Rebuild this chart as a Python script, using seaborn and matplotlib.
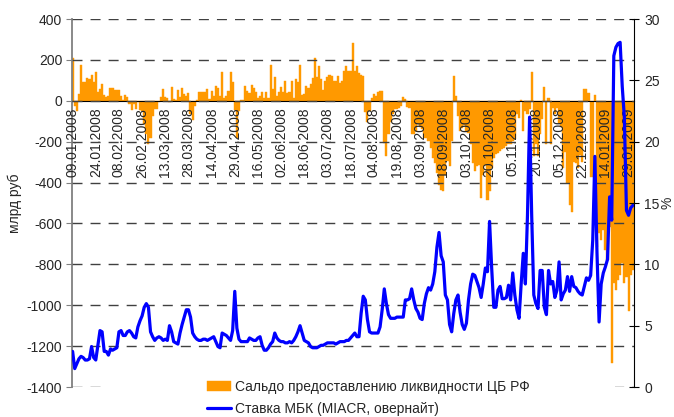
import numpy as np
import pandas as pd
import matplotlib
matplotlib.use("Agg")
import matplotlib.pyplot as plt
import seaborn as sns
from matplotlib.patches import Rectangle

# === Подписи оси X (каждый 11-й торговый день) ===
tick_labels = [
    "09.01.2008", "24.01.2008", "08.02.2008", "26.02.2008", "13.03.2008",
    "28.03.2008", "14.04.2008", "29.04.2008", "16.05.2008", "02.06.2008",
    "18.06.2008", "03.07.2008", "18.07.2008", "04.08.2008", "19.08.2008",
    "03.09.2008", "18.09.2008", "03.10.2008", "20.10.2008", "05.11.2008",
    "20.11.2008", "05.12.2008", "22.12.2008", "14.01.2009", "29.01.2009",
]

# === Сальдо предоставления ликвидности ЦБ РФ, млрд руб (по дням) ===
saldo = [
    210, -25, -50, 33, 177, 93, 93, 111, 107, 128,
    90, 143, 41, 57, 82, 30, 20, 25, 61, 62,
    54, 52, 54, 25, 3, 28, 20, -16, -46, -16,
    -41, -8, -46, -50, -115, -164, -210, -180, -74, -41,
    -41, -5, 20, 57, 20, 16, -8, 69, 8, 3,
    52, 21, 62, 33, 25, 36, -66, -95, -25, 5,
    44, 41, 41, 41, 57, 8, 49, 25, 74, 62,
    25, 143, 16, 25, 49, 139, 90, -46, -180, -50,
    5, 3, 74, 49, 36, 79, 61, 44, 16, 25,
    41, 16, 41, 16, 177, 57, 118, 25, 41, 69,
    41, 98, 36, 41, 98, 16, 107, 90, 175, 28,
    33, 74, 62, 82, 111, 210, 118, 172, 107, 52,
    98, 115, 128, 123, 98,
    98, 123, 85, 95, 148, 172, 144, 144, 282, 144,
    172, 134, 128, 123, -57, -102, -49, 13, 33, 25,
    41, 49, 46, -205, -270, -164, -102, -66, -41, -41,
    -33, -25, 20, 8, -30, -33, -161, -161, -148, -115,
    -128, -139, -184, -180, -197, -230, -279, -303, -353, -410,
    -435, -443, -361, -295, -320, -197, 123, 25, -74, -148,
    -131, -118, -148, -156, -213, -303, -344, -320, -312, -476,
    -361, -312, -484, -443, -328, -279, -262, -254, -246, -238,
    -230, -221, -213, -213, -197, -189, -66, -82, 3, -148,
    -49, -66,
    -40, 139, -270, -213, -270, -164, -90, 69, -213, 16,
    -213, -33, -66, -33, -110, -127, -330, -250, -400, -510,
    -545, -300, -306, -331, -266, -300, 60, 57, 40, -372,
    -372, 28, -714, -649, -681, -632, -730, -779, -616, -1284,
    -893, -926, -877, -852, -795, -893, -860, -1030, -852, -828,
]

# === Ставка МБК (MIACR, овернайт), % ===
miacr = [
    2.9, 1.5, 1.9, 2.3, 2.5, 2.4, 2.2, 2.2, 2.3, 3.3,
    2.4, 2.2, 3.4, 4.6, 4.5, 2.9, 2.9, 2.6, 3.1, 3.0,
    3.1, 3.2, 4.5, 4.6, 4.2, 4.2, 4.5, 4.6, 4.4, 4.1,
    4.0, 4.9, 5.4, 5.8, 6.5, 6.8, 6.5, 4.5, 4.1, 3.8,
    4.0, 4.1, 4.0, 3.8, 3.9, 3.8, 5.0, 4.5, 3.7, 3.6,
    3.5, 4.4, 5.1, 5.7, 6.3, 6.3, 5.7, 4.4, 4.1, 3.9,
    3.8, 3.8, 3.9, 3.9, 3.8, 3.9, 4.0, 4.1, 3.7, 3.3,
    3.2, 4.4, 4.3, 4.2, 4.0, 3.8, 4.6, 7.8, 4.8, 3.9,
    3.7, 3.7, 3.7, 3.7, 4.0, 3.9, 3.8, 3.8, 4.0, 4.1,
    3.4, 3.0, 3.0, 3.2, 3.5, 3.7, 4.4, 4.0, 3.8, 3.7,
    3.7, 3.6, 3.6, 3.7, 3.6, 3.8, 4.1, 4.5, 5.0, 4.4,
    3.8, 3.7, 3.6, 3.3, 3.2, 3.2, 3.2, 3.3, 3.4, 3.4,
    3.5, 3.6, 3.6, 3.6, 3.6,
    3.5, 3.6, 3.7, 3.7, 3.7, 3.8, 3.8, 4.0, 4.2, 4.4,
    4.1, 4.1, 6.0, 7.4, 7.1, 5.5, 4.5, 4.4, 4.4, 4.4,
    4.4, 4.9, 6.3, 8.0, 6.8, 5.9, 5.6, 5.6, 5.6, 5.7,
    5.7, 5.7, 5.7, 7.1, 7.1, 7.2, 8.0, 7.1, 6.4, 6.1,
    5.6, 5.5, 6.8, 7.6, 8.1, 7.9, 8.4, 9.4, 11.4, 12.6,
    10.7, 10.2, 7.5, 7.1, 5.1, 4.5, 6.0, 7.1, 7.5, 6.1,
    5.1, 4.7, 5.2, 7.1, 8.4, 9.2, 9.1, 8.6, 8.1, 7.3,
    8.4, 9.7, 9.4, 13.5, 9.7,
    6.5, 6.5, 7.9, 8.2, 7.2, 7.2, 7.3, 8.3, 7.1, 9.3,
    7.5, 6.3, 5.6, 8.4, 10.9, 8.4, 14.0, 22.0, 14.0, 7.5,
    6.8, 6.4, 9.5, 9.5, 6.5, 5.9, 9.5, 8.4, 8.6, 7.3,
    7.9, 10.2, 7.1, 7.6, 7.9, 9.0, 7.8, 9.0, 8.2, 8.1,
    7.8, 7.6, 7.5, 8.2, 8.9, 8.7, 9.1, 12.0, 18.8, 11.0,
    5.3, 8.4, 9.3, 9.8, 10.4, 15.5, 13.6, 27.0, 27.7, 28.0,
    28.1, 24.5, 22.0, 14.4, 14.0, 14.6, 14.8,
]

# === Оформление ===
sns.set_style("white")
plt.rcParams["font.family"] = ["Liberation Sans", "DejaVu Sans"]
plt.rcParams["font.size"] = 10
plt.rcParams["axes.unicode_minus"] = False

day = np.arange(len(saldo))
df = pd.DataFrame({"day": day, "saldo": saldo, "miacr": miacr})

fig, ax = plt.subplots(figsize=(6.74, 4.17), dpi=100)
fig.subplots_adjust(left=0.1068, right=0.9407, top=0.9544, bottom=0.0719)

# === Столбцы: сальдо ===
sns.barplot(data=df, x="day", y="saldo", native_scale=True, width=1.0,
            color="#FF9900", saturation=1, edgecolor="#FF9900", linewidth=0.3,
            errorbar=None, ax=ax, label="Сальдо предоставлению ликвидности ЦБ РФ")
ax.set_axisbelow(False)   # подписи дат и сетка поверх столбцов

# === Линия: ставка МБК (правая ось) ===
ax2 = ax.twinx()
sns.lineplot(data=df, x="day", y="miacr", color="#0000FF", linewidth=2.3,
             ax=ax2, label="Ставка МБК (MIACR, овернайт)")

# === Оси ===
ax.set_xlim(-0.3, len(day) - 0.4)
ax.set_ylim(-1400, 400)
ax.set_yticks(range(-1400, 401, 200))
ax2.set_ylim(0, 30)
ax2.set_yticks(range(0, 31, 5))

ax.set_xticks(day[::11])
ax.set_xticklabels(tick_labels)
ax.set_xticks(day, minor=True)
ax.tick_params(axis="x", which="both", direction="out", length=3, width=0.7,
               color="black", pad=2, labelsize=10)
ax.tick_params(axis="x", which="major", labelrotation=90)
ax.tick_params(axis="y", direction="out", length=4, color="#808080", pad=3, labelsize=10)
ax2.tick_params(axis="y", direction="inout", length=7, color="black", pad=4, labelsize=10)

ax.set_xlabel("")
ax2.set_xlabel("")
ax.set_ylabel("млрд руб", fontsize=10, labelpad=3)
ax2.set_ylabel("%", fontsize=10, labelpad=0)

ax.spines["bottom"].set_position(("data", 0))
ax.spines["bottom"].set_color("black")
ax.spines["left"].set_color("#808080")
ax.spines["left"].set_linewidth(1.3)
ax.spines["top"].set_visible(False)
ax.spines["right"].set_visible(False)
for s in ["top", "left", "bottom"]:
    ax2.spines[s].set_visible(False)
ax2.spines["right"].set_color("black")

ax.yaxis.grid(True, linestyle=(0, (7.2, 5.8)), color="#404040", linewidth=1.0)
ax.xaxis.grid(False)
ax2.grid(False)

# === Легенда ===
h1, l1 = ax.get_legend_handles_labels()
h2, l2 = ax2.get_legend_handles_labels()
for a in (ax, ax2):
    if a.get_legend() is not None:
        a.get_legend().remove()

fig.add_artist(Rectangle((107 / 674, 0), (615 - 107) / 674, 37 / 417,
                         transform=fig.transFigure, facecolor="white",
                         edgecolor="none", zorder=3))
fig.legend(h1 + h2, l1 + l2, loc="center left", bbox_to_anchor=(200 / 674, 0.046),
           frameon=False, fontsize=10, handlelength=1.7, handleheight=0.8,
           labelspacing=0.55, borderpad=0, handletextpad=0.3)

plt.savefig("out.png", dpi=100)
